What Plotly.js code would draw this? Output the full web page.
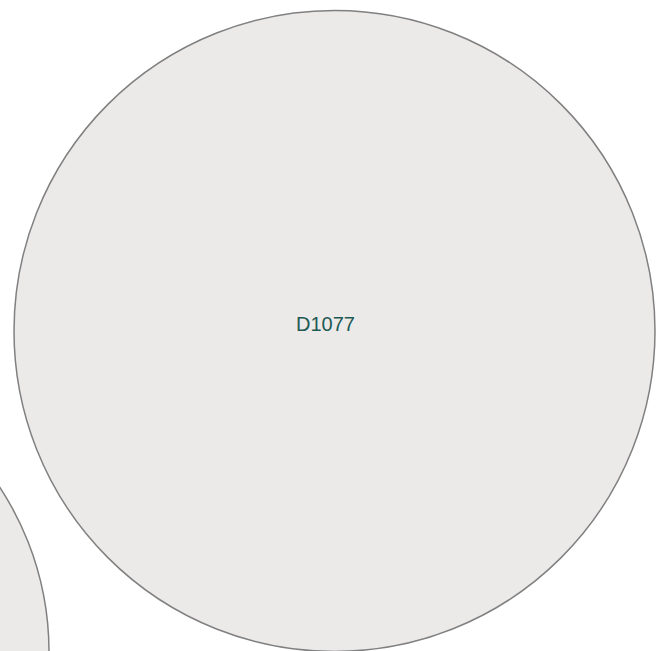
<!DOCTYPE html>
<html>
<head>
<meta charset="utf-8">
<script src="https://cdn.plot.ly/plotly-3.0.1.min.js"></script>
<style>html,body{margin:0;padding:0;background:#fff;}#chart{width:663px;height:651px;}</style>
</head>
<body>
<div id="chart"></div>
<script>
// Circle-packing view (zoomed): node ids, centres and radii in view units
const nodeIds = ["D1077", ""];
const centerX = [334.5, -251];
const centerY = [331, 652];
const radius = [320.5, 300];
const labelX = [325, null];
const labelY = [324, null];

const shapes = nodeIds.map((id, i) => ({
  type: "circle", xref: "x", yref: "y",
  x0: centerX[i] - radius[i], x1: centerX[i] + radius[i],
  y0: centerY[i] - radius[i], y1: centerY[i] + radius[i],
  fillcolor: "#ece9e9",
  line: {color: "rgb(128,128,128)", width: 1.5},
  layer: "below"
}));

const annotations = nodeIds.map((id, i) => ({
  x: labelX[i], y: labelY[i], xref: "x", yref: "y",
  text: id, showarrow: false,
  font: {family: "Liberation Sans, Arial, sans-serif", size: 20, color: "#1d5a54"},
  xanchor: "center", yanchor: "middle"
})).filter(a => a.text !== "");

const layout = {
  width: 663, height: 651,
  margin: {l: 0, r: 0, t: 0, b: 0},
  paper_bgcolor: "#ffffff", plot_bgcolor: "#ffffff",
  xaxis: {range: [0, 663], visible: false, fixedrange: true},
  yaxis: {range: [651, 0], visible: false, fixedrange: true},
  shapes: shapes,
  annotations: annotations,
  showlegend: false
};

Plotly.newPlot("chart", [{x: [], y: [], type: "scatter", mode: "markers", hoverinfo: "skip"}], layout, {displayModeBar: false, staticPlot: true});
</script>
</body>
</html>
